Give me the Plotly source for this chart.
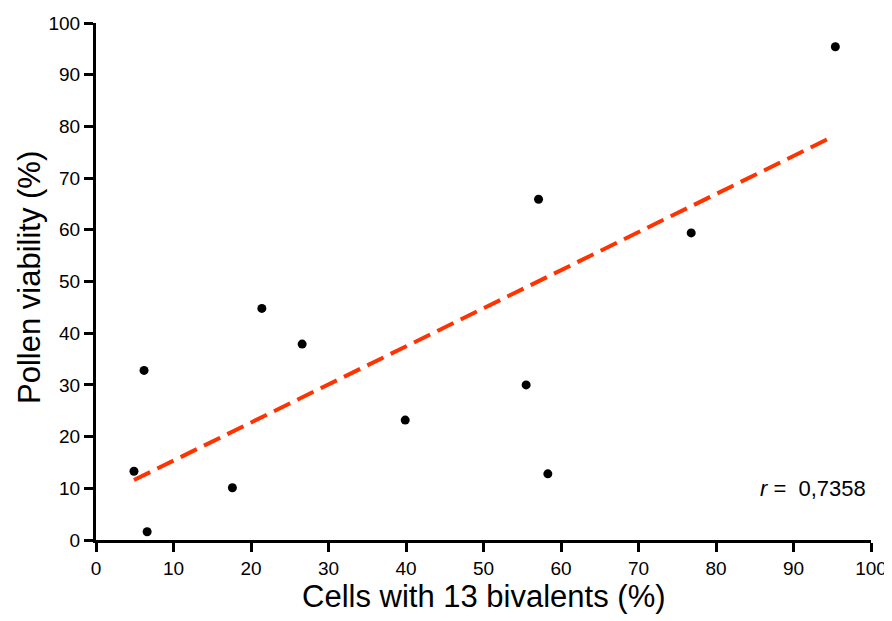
import plotly.graph_objects as go

# Data
cells_13_bivalents = [4.9, 6.2, 6.6, 17.6, 21.4, 26.6, 39.9, 55.5, 57.1, 58.3, 76.8, 95.4]
pollen_viability = [13.3, 32.8, 1.6, 10.1, 44.8, 37.9, 23.2, 30.0, 65.9, 12.8, 59.4, 95.4]

fit_x = [4.9, 94.5]
fit_y = [11.6, 77.6]

x_title = "Cells with 13 bivalents (%)"
y_title = "Pollen viability (%)"
r_label = "<i>r</i> =&nbsp; 0,7358"
tick_vals = [0, 10, 20, 30, 40, 50, 60, 70, 80, 90, 100]

FONT = "Liberation Sans, Arial, sans-serif"

fig = go.Figure()
fig.add_trace(go.Scatter(
    x=fit_x, y=fit_y, mode="lines",
    line=dict(color="#FF3300", width=4, dash="18px,8px"),
    showlegend=False, hoverinfo="skip",
))
fig.add_trace(go.Scatter(
    x=cells_13_bivalents, y=pollen_viability, mode="markers",
    marker=dict(color="black", size=9),
    showlegend=False,
))

axis_common = dict(
    range=[0, 100], tickvals=tick_vals,
    showline=True, linecolor="black", linewidth=3,
    ticks="outside", ticklen=9, tickwidth=3, tickcolor="black",
    showgrid=False, zeroline=False, automargin=False,
    tickfont=dict(family=FONT, size=19, color="black"),
)

# The page body adds an 8px offset, so the figure is 8px smaller and margins shifted.
fig.update_layout(
    width=884, height=613,
    margin=dict(l=88, r=21, t=15, b=81),
    plot_bgcolor="white", paper_bgcolor="white",
    font=dict(family=FONT, color="black"),
    xaxis=dict(**axis_common),
    yaxis=dict(**axis_common),
    annotations=[
        dict(x=99.6, y=9.9, xref="x", yref="y", xanchor="right", yanchor="middle",
             text=r_label, showarrow=False,
             font=dict(family=FONT, size=22, color="black")),
        dict(x=0.5, y=-0.110, xref="paper", yref="paper",
             xanchor="center", yanchor="middle",
             text=x_title, showarrow=False,
             font=dict(family=FONT, size=31, color="black")),
        dict(x=-0.085, y=0.507, xref="paper", yref="paper",
             xanchor="center", yanchor="middle", textangle=-90,
             text=y_title, showarrow=False,
             font=dict(family=FONT, size=31, color="black")),
    ],
)

fig.write_html("out.html")
